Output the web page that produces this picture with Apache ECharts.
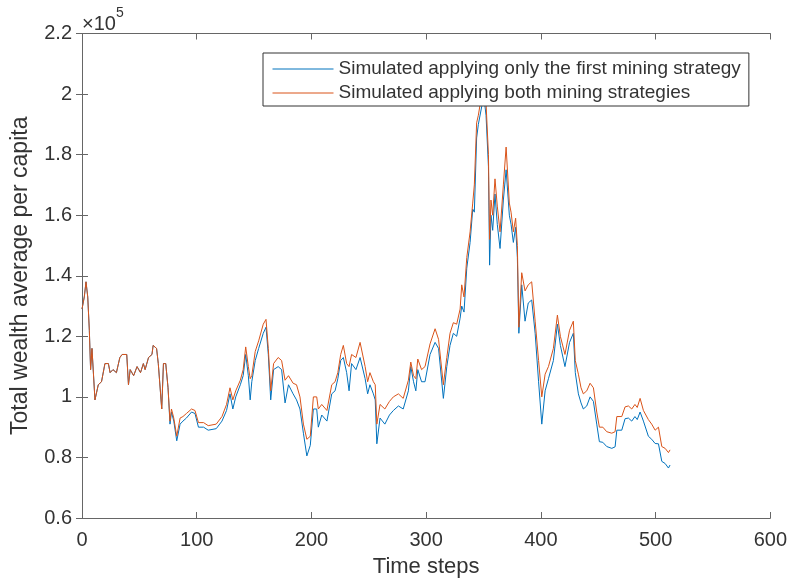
<!DOCTYPE html>
<html>
<head>
    <meta charset="utf-8">
    <title>Total wealth average per capita</title>
    <style>
        html, body { margin: 0; padding: 0; background: #fff; }
        #main { width: 790px; height: 583px; }
    </style>
</head>
<body>
    <div id="main"></div>
    <script src="https://cdn.jsdelivr.net/npm/echarts@6/dist/echarts.min.js"></script>
    <script>
        // 时间步 (x)
        var steps = [0, 2, 3.5, 5, 6.4, 7.5, 8.7, 10, 11.3, 12.8, 14.2, 17, 20, 23, 24.5, 27, 30, 33, 35, 39,
            40.5, 42, 45, 48, 51, 53.5, 55, 58, 61, 62, 65, 66.5, 69.5, 71, 73, 75, 76.7, 78, 80, 82.6,
            85.5, 88, 91, 95.5, 98.5, 101.5, 106, 110, 117, 122, 126, 129, 131.5, 134, 138, 140.5, 142.7, 145, 146.6, 148,
            151, 154, 158, 160.4, 162.4, 164.5, 167, 171, 174, 177, 180, 184, 187, 190, 193, 196, 199, 201.7, 204.6, 206,
            209, 213.5, 217.7, 220.6, 223, 225.5, 227.8, 230.7, 232.8, 235, 238.8, 242.4, 246.8, 249, 251, 254, 255.6, 257, 259.8, 264,
            268, 271.4, 275.8, 280, 284.5, 286.6, 289, 291, 292.7, 296, 299, 303.4, 307.8, 310.8, 315, 318, 320.8, 323.7, 326.6, 329.6,
            331, 333, 335.4, 338.3, 340.6, 342, 344, 345.5, 348.5, 350, 352.2, 354.3, 355.3, 356.5, 358, 360, 362, 364.4, 367.3, 369.7,
            372.5, 374, 376, 378, 379.5, 380.8, 383.3, 386.2, 389, 392, 395, 398, 400.8, 403.7, 406.6, 410.9, 414.4, 417, 421, 425,
            428.3, 430, 432.7, 435, 437, 440, 442.9, 445.8, 448.7, 451, 454, 457.4, 461.8, 464.7, 466.2, 470.5, 473.4, 476.3, 479.2, 482,
            484, 486.5, 489.4, 493.7, 496.6, 499.6, 502.5, 505.4, 508.3, 511.2, 512.6];

        // 只用第一种策略 (x10^5)
        var onlyFirst = [1.29, 1.33, 1.38, 1.33, 1.22, 1.09, 1.16, 1.16, 0.99, 0.99, 1.04, 1.05, 1.11, 1.11, 1.08, 1.09, 1.08, 1.13, 1.14, 1.14,
            1.04, 1.09, 1.07, 1.10, 1.08, 1.11, 1.09, 1.13, 1.14, 1.17, 1.16, 1.11, 0.96, 1.11, 1.11, 1.03, 0.91, 0.95, 0.92, 0.855,
            0.91, 0.92, 0.93, 0.95, 0.945, 0.90, 0.90, 0.89, 0.895, 0.92, 0.955, 1.01, 0.96, 1.00, 1.04, 1.07, 1.14, 1.07, 0.99, 1.05,
            1.12, 1.16, 1.21, 1.23, 1.14, 0.99, 1.09, 1.10, 1.09, 0.98, 1.04, 1.01, 0.99, 0.96, 0.88, 0.805, 0.84, 0.96, 0.96, 0.90,
            0.94, 0.92, 1.01, 1.02, 1.06, 1.12, 1.13, 1.08, 1.02, 1.11, 1.09, 1.13, 1.06, 1.01, 1.04, 1.01, 0.99, 0.845, 0.93, 0.91,
            0.94, 0.955, 0.97, 0.96, 1.02, 1.10, 1.05, 1.02, 1.09, 1.05, 1.05, 1.14, 1.18, 1.16, 0.995, 1.10, 1.17, 1.21, 1.20, 1.26,
            1.30, 1.28, 1.425, 1.51, 1.62, 1.61, 1.855, 1.90, 1.96, 2.00, 1.93, 1.76, 1.435, 1.60, 1.55, 1.67, 1.57, 1.49, 1.65, 1.75,
            1.60, 1.57, 1.51, 1.56, 1.46, 1.21, 1.37, 1.25, 1.31, 1.32, 1.21, 1.05, 0.91, 1.02, 1.06, 1.12, 1.24, 1.17, 1.10, 1.18,
            1.21, 1.08, 1.01, 0.98, 0.96, 0.97, 1.00, 0.985, 0.91, 0.852, 0.85, 0.836, 0.83, 0.835, 0.89, 0.89, 0.928, 0.93, 0.92, 0.935,
            0.925, 0.95, 0.92, 0.87, 0.86, 0.846, 0.845, 0.787, 0.78, 0.765, 0.775];

        // 两种策略都用 (x10^5)
        var bothStrategies = [1.29, 1.33, 1.38, 1.33, 1.22, 1.09, 1.16, 1.16, 0.99, 0.99, 1.04, 1.05, 1.11, 1.11, 1.08, 1.09, 1.08, 1.13, 1.14, 1.14,
            1.04, 1.09, 1.07, 1.10, 1.08, 1.11, 1.09, 1.13, 1.14, 1.17, 1.16, 1.11, 0.96, 1.11, 1.11, 1.03, 0.92, 0.96, 0.93, 0.87,
            0.93, 0.935, 0.945, 0.96, 0.955, 0.915, 0.915, 0.905, 0.91, 0.935, 0.975, 1.03, 0.99, 1.02, 1.055, 1.09, 1.165, 1.10, 1.06, 1.07,
            1.15, 1.185, 1.24, 1.256, 1.16, 1.02, 1.11, 1.13, 1.12, 1.055, 1.07, 1.045, 1.04, 1.00, 0.91, 0.86, 0.87, 1.00, 1.00, 0.96,
            0.975, 0.955, 1.04, 1.05, 1.08, 1.14, 1.17, 1.11, 1.10, 1.14, 1.13, 1.18, 1.10, 1.05, 1.08, 1.05, 1.04, 0.91, 0.975, 0.96,
            0.985, 1.00, 1.01, 0.995, 1.055, 1.115, 1.07, 1.06, 1.125, 1.09, 1.10, 1.175, 1.225, 1.19, 1.04, 1.13, 1.21, 1.245, 1.24, 1.29,
            1.37, 1.33, 1.46, 1.545, 1.64, 1.70, 1.905, 1.93, 2.00, 2.04, 1.97, 1.80, 1.52, 1.65, 1.60, 1.72, 1.63, 1.545, 1.70, 1.825,
            1.64, 1.61, 1.545, 1.59, 1.50, 1.23, 1.41, 1.35, 1.37, 1.38, 1.25, 1.12, 1.00, 1.075, 1.10, 1.16, 1.27, 1.20, 1.14, 1.22,
            1.25, 1.12, 1.075, 1.03, 1.01, 1.02, 1.045, 1.03, 0.95, 0.90, 0.90, 0.885, 0.88, 0.885, 0.935, 0.935, 0.967, 0.97, 0.96, 0.975,
            0.965, 0.995, 0.955, 0.925, 0.91, 0.89, 0.90, 0.836, 0.83, 0.816, 0.825];

        var seriesNames = ['Simulated applying only the first mining strategy', 'Simulated applying both mining strategies'];
        var colors = ['#0072BD', '#D95319'];

        var pairUp = function(xs, ys) {
            var res = [];
            for (var i = 0; i < xs.length; i++) {
                res.push([xs[i], ys[i]]);
            }
            return res;
        };

        var chart = echarts.init(document.getElementById('main'));
        var axisColor = '#666';
        var textColor = '#333';
        var font = 'Liberation Sans, Arial, sans-serif';

        // 四边都有刻度 (matlab box on)
        var tickStyle = { show: true, inside: true, length: 6, lineStyle: { color: axisColor } };

        var option = {
            animation: false,
            grid: { left: 82, right: 19, top: 33.5, bottom: 62, containLabel: false },
            legend: {
                orient: 'vertical',
                left: 263,
                top: 53,
                padding: [5, 8, 2, 9],
                itemWidth: 61,
                itemHeight: 14,
                itemGap: 2,
                backgroundColor: '#fff',
                borderColor: '#333',
                borderWidth: 1,
                borderRadius: 0,
                selectedMode: false,
                // 只要线, 不要圆点
                itemStyle: { opacity: 0 },
                lineStyle: { width: 1 },
                textStyle: { fontFamily: font, fontSize: 19, color: textColor, lineHeight: 22 },
                data: seriesNames
            },
            graphic: [{
                type: 'text',
                left: 82,
                top: 6,
                style: {
                    text: '{m|×10}{s|5}',
                    rich: {
                        m: { fontFamily: font, fontSize: 20, fill: textColor, padding: [8, 0, 0, 0] },
                        s: { fontFamily: font, fontSize: 14, fill: textColor, verticalAlign: 'top' }
                    }
                }
            }],
            xAxis: [{
                type: 'value',
                min: 0, max: 600, interval: 100,
                name: 'Time steps',
                nameLocation: 'middle',
                nameGap: 38,
                nameTextStyle: { fontFamily: font, fontSize: 22, color: textColor },
                axisLine: { show: true, lineStyle: { color: axisColor } },
                axisTick: tickStyle,
                axisLabel: { fontFamily: font, fontSize: 20, color: textColor, margin: 12 },
                splitLine: { show: false }
            }, {
                type: 'value',
                position: 'top',
                min: 0, max: 600, interval: 100,
                axisLine: { show: true, lineStyle: { color: axisColor } },
                axisTick: tickStyle,
                axisLabel: { show: false },
                splitLine: { show: false }
            }],
            yAxis: [{
                type: 'value',
                min: 0.6, max: 2.2, interval: 0.2,
                name: 'Total wealth average per capita',
                nameLocation: 'middle',
                nameGap: 50,
                nameTextStyle: { fontFamily: font, fontSize: 23, color: textColor },
                axisLine: { show: true, lineStyle: { color: axisColor } },
                axisTick: tickStyle,
                axisLabel: {
                    fontFamily: font, fontSize: 20, color: textColor, margin: 10,
                    formatter: function(v) { return String(Math.round(v * 10) / 10); }
                },
                splitLine: { show: false }
            }, {
                type: 'value',
                position: 'right',
                min: 0.6, max: 2.2, interval: 0.2,
                axisLine: { show: true, lineStyle: { color: axisColor } },
                axisTick: tickStyle,
                axisLabel: { show: false },
                splitLine: { show: false }
            }],
            series: [{
                name: seriesNames[0],
                type: 'line',
                symbol: 'none',
                lineStyle: { color: colors[0], width: 1 },
                itemStyle: { color: colors[0] },
                data: pairUp(steps, onlyFirst)
            }, {
                name: seriesNames[1],
                type: 'line',
                symbol: 'none',
                lineStyle: { color: colors[1], width: 1 },
                itemStyle: { color: colors[1] },
                data: pairUp(steps, bothStrategies)
            }]
        };
        chart.setOption(option);
    </script>
</body>
</html>
